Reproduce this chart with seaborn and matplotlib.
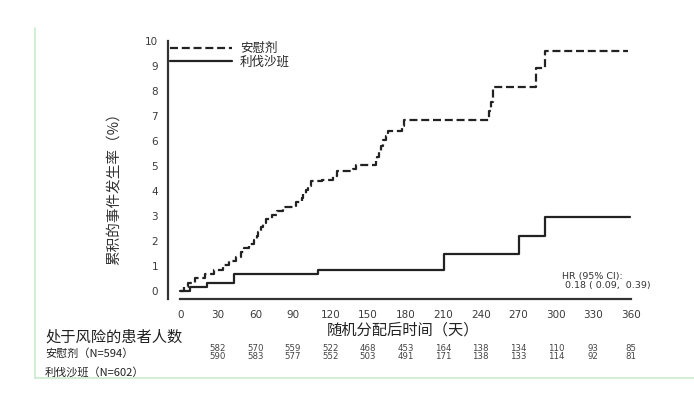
import matplotlib
matplotlib.use("Agg")
import matplotlib.pyplot as plt
from matplotlib.lines import Line2D
import seaborn as sns

# -----------------------------
# Data
# -----------------------------
placebo_days = [0, 3, 6, 12, 20, 27, 34, 39, 44, 48, 51, 55, 59, 61, 62, 64, 66, 68,
                73, 77, 82, 92, 97, 98, 100, 102, 104, 113, 122, 125, 138, 140, 156,
                157, 159, 160, 162, 164, 166, 177, 179, 247, 248, 250, 284, 291, 358]
placebo_rate = [0, 0.17, 0.33, 0.5, 0.67, 0.84, 1.04, 1.2, 1.37, 1.54, 1.7, 1.87, 2.04,
                2.2, 2.37, 2.54, 2.7, 2.87, 3.04, 3.2, 3.37, 3.54, 3.7, 3.87, 4.04, 4.2,
                4.4, 4.45, 4.6, 4.8, 4.87, 5.04, 5.2, 5.37, 5.6, 5.8, 6.04, 6.2, 6.4,
                6.6, 6.84, 7.2, 7.57, 8.17, 8.9, 9.6, 9.6]

riva_days = [0, 8, 21, 43, 110, 211, 271, 291, 359]
riva_rate = [0, 0.17, 0.33, 0.68, 0.85, 1.47, 2.2, 2.97, 2.97]

x_ticks = [0, 30, 60, 90, 120, 150, 180, 210, 240, 270, 300, 330, 360]
y_ticks = list(range(0, 11))

risk_days = [30, 60, 90, 120, 150, 180, 210, 240, 270, 300, 330, 360]
risk_placebo = [582, 570, 559, 522, 468, 453, 164, 138, 134, 110, 93, 85]
risk_riva = [590, 583, 577, 552, 503, 491, 171, 138, 133, 114, 92, 81]

label_placebo = "安慰剂"
label_riva = "利伐沙班"

# -----------------------------
# Style
# -----------------------------
sns.set_style("white")
plt.rcParams['font.family'] = ['Noto Sans CJK SC', 'DejaVu Sans']
plt.rcParams['axes.unicode_minus'] = False

fig = plt.figure(figsize=(6.94, 3.97), dpi=100)
ax = fig.add_axes([0.242, 0.247, 0.676, 0.650])

line_col = "#222222"
dash = (0, (3.6, 1.7))
sns.lineplot(x=placebo_days, y=placebo_rate, drawstyle='steps-post', estimator=None,
             sort=False, color=line_col, linewidth=1.6, linestyle=dash, ax=ax)
sns.lineplot(x=riva_days, y=riva_rate, drawstyle='steps-post', estimator=None,
             sort=False, color=line_col, linewidth=1.6, ax=ax)

ax.set_xlim(-10, 365)
ax.set_ylim(-0.32, 10)
ax.set_xticks(x_ticks)
ax.set_yticks(y_ticks)
ax.tick_params(axis='both', direction='out', length=5, width=1.5, color="#333333",
               labelsize=7.5, labelcolor="#3a3a3a", pad=2)
ax.tick_params(axis='x', pad=3)
for lab in ax.get_xticklabels() + ax.get_yticklabels():
    lab.set_family('DejaVu Sans')
for s in ['top', 'right']:
    ax.spines[s].set_visible(False)
for s in ['left', 'bottom']:
    ax.spines[s].set_color("#333333")
    ax.spines[s].set_linewidth(1.6)
ax.spines['bottom'].set_bounds(0, 360)
ax.spines['left'].set_bounds(-0.32, 10)

ax.set_ylabel("累积的事件发生率（%）", fontsize=10.5, color="#333333")
ax.yaxis.set_label_coords(-0.1, 0.44)
ax.set_xlabel("随机分配后时间（天）", fontsize=11, color="#222222", labelpad=1)

# legend
handles = [Line2D([], [], color=line_col, linewidth=1.6, linestyle=dash),
           Line2D([], [], color=line_col, linewidth=1.6)]
ax.legend(handles, [label_placebo, label_riva], loc='upper left',
          bbox_to_anchor=(0.004, 0.995), frameon=False, fontsize=9,
          handlelength=5.0, handletextpad=0.6, labelspacing=0.0,
          borderpad=0, borderaxespad=0)

ax.text(0.84, 0.035, "HR (95% CI):\n 0.18 ( 0.09,  0.39)", transform=ax.transAxes,
        fontsize=6.8, color="#333333", family='DejaVu Sans', linespacing=0.95,
        va='bottom', ha='left')

# -----------------------------
# Numbers at risk
# -----------------------------
fig.text(0.065, 0.151, "处于风险的患者人数", fontsize=11, color="#222222", va='center')
fig.text(0.065, 0.108, "安慰剂（N=594）", fontsize=8, color="#222222", va='center')
fig.text(0.065, 0.063, "利伐沙班（N=602）", fontsize=8, color="#222222", va='center')

trans = ax.get_xaxis_transform()
for d, p, r in zip(risk_days, risk_placebo, risk_riva):
    ax.text(d, -0.193, str(p), transform=trans, fontsize=6.2, color="#444444",
            ha='center', va='center', family='DejaVu Sans', clip_on=False)
    ax.text(d, -0.223, str(r), transform=trans, fontsize=6.2, color="#444444",
            ha='center', va='center', family='DejaVu Sans', clip_on=False)

# light green frame
frame_col = "#c9eccd"
fig.add_artist(Line2D([0.05, 0.05], [0.048, 0.93], color=frame_col, linewidth=1.2))
fig.add_artist(Line2D([0.05, 1.0], [0.048, 0.048], color=frame_col, linewidth=1.2))

fig.savefig("out.png", dpi=100)
